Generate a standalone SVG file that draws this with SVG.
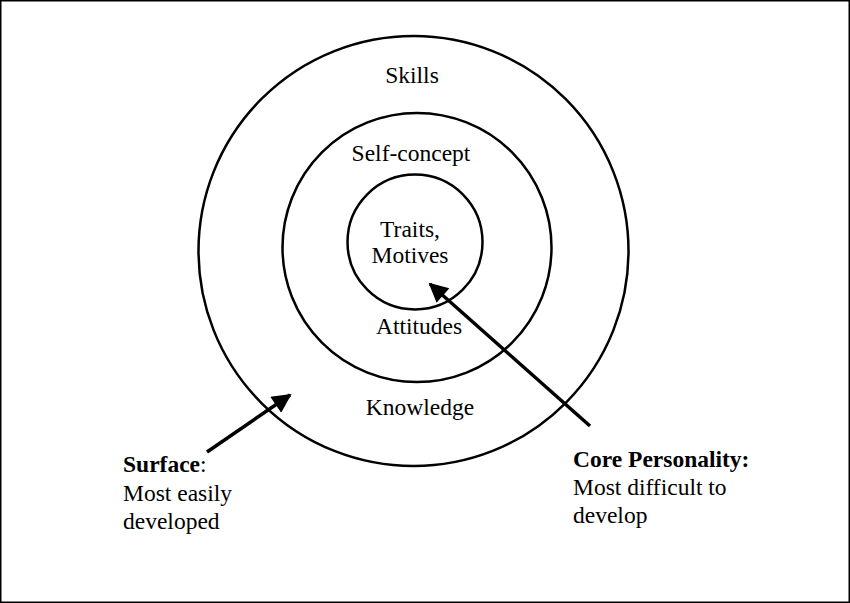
<svg xmlns="http://www.w3.org/2000/svg" width="850" height="603" viewBox="0 0 850 603">
<style>
.ring{fill:none;stroke:#000;stroke-width:2.5}
.lbl{font-family:"Liberation Serif","Times New Roman",serif;font-size:23.5px;fill:#000}
.c{text-anchor:middle}
.b{font-weight:bold}
.con{stroke:#000;stroke-width:3.5;fill:none}
</style>
<defs>
<marker id="ah" viewBox="0 0 10 10" refX="9" refY="5" markerWidth="6" markerHeight="5.5" markerUnits="strokeWidth" orient="auto">
<path d="M0,0 L10,5 L0,10 Z" fill="#000"/>
</marker>
</defs>
<rect x="0.75" y="0.75" width="848.5" height="601.5" fill="#fff" stroke="#000" stroke-width="1.5"/>
<g id="outer">
<circle class="ring" cx="413.5" cy="251" r="215"/>
<text class="lbl c" x="412" y="83">Skills</text>
<text class="lbl c" x="420" y="415">Knowledge</text>
</g>
<g id="middle">
<circle class="ring" cx="417" cy="247.5" r="134.5"/>
<text class="lbl c" x="411" y="161">Self-concept</text>
<text class="lbl c" x="419" y="334">Attitudes</text>
</g>
<g id="inner">
<circle class="ring" cx="415" cy="242" r="67.5"/>
<text class="lbl c" x="410" y="237">Traits,</text>
<text class="lbl c" x="410" y="263">Motives</text>
</g>
<g id="surface-label">
<text class="lbl" x="123" y="472"><tspan class="b">Surface</tspan>:</text>
<text class="lbl" x="123" y="501">Most easily</text>
<text class="lbl" x="123" y="529">developed</text>
</g>
<g id="core-label">
<text class="lbl b" x="573" y="467">Core Personality:</text>
<text class="lbl" x="573" y="495">Most difficult to</text>
<text class="lbl" x="573" y="523">develop</text>
</g>
<g id="connectors">
<line class="con" x1="207" y1="452" x2="290" y2="395" marker-end="url(#ah)"/>
<line class="con" x1="590" y1="426" x2="430" y2="284" marker-end="url(#ah)"/>
</g>
</svg>
